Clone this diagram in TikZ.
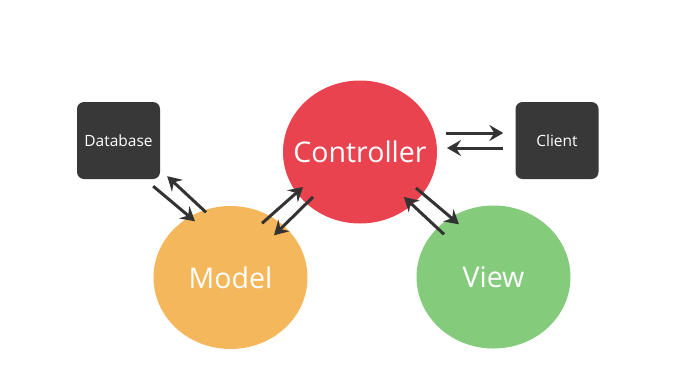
\documentclass[tikz,border=0pt]{standalone}
\usepackage{fontspec}
\setmainfont{Open Sans}
\usetikzlibrary{shapes.geometric,arrows.meta}

\definecolor{boxgray}{HTML}{383838}
\definecolor{arrowgray}{HTML}{333333}
\definecolor{ctrlred}{HTML}{E8434F}
\definecolor{modelorange}{HTML}{F5B75B}
\definecolor{viewgreen}{HTML}{84CC7C}

\tikzset{
  partbox/.style={fill=boxgray, rounded corners=7pt, minimum width=83pt,
    minimum height=77pt, inner sep=0pt, text=white,
    font=\fontsize{15.5}{18}\selectfont},
  partblob/.style={ellipse, minimum width=154pt, minimum height=143pt,
    inner ysep=0pt, inner xsep=-16pt, text=white,
    font=\fontsize{28.5}{31}\selectfont},
  arr/.style={-{Stealth[length=14pt,width=16pt,inset=5pt]},
    line width=3pt, draw=arrowgray},
}

\begin{document}
\begin{tikzpicture}[x=1pt,y=-1pt]
\useasboundingbox (0,0) rectangle (679,391);
% the boxes and the three parts
\node[partbox] (db) at (118.5,140.5) {Database};
\node[partbox] (client) at (557,140.5) {Client};
\node[partblob, fill=ctrlred] (ctrl) at (360,152) {Controller};
\node[partblob, fill=modelorange] (model) at (230.5,277.5) {Model};
\node[partblob, fill=viewgreen] (view) at (493.5,277) {View};
% arrows
\draw[arr] ([shift={(-7,7)}]db.south east) -- ([shift={(-35.5,15.5)}]model.north);
\draw[arr] ([shift={(-24.5,6.5)}]model.north) -- ([shift={(7,-3)}]db.south east);
\draw[arr] ([shift={(31.5,17.5)}]model.north) -- ([shift={(-57,35)}]ctrl.center);
\draw[arr] ([shift={(-47,45)}]ctrl.center) -- ([shift={(43.5,29.5)}]model.north);
\draw[arr] ([shift={(86,-19)}]ctrl.center) -- ([shift={(-12,-7.5)}]client.west);
\draw[arr] ([shift={(-12,7.5)}]client.west) -- ([shift={(87,-4)}]ctrl.center);
\draw[arr] ([shift={(56,36)}]ctrl.center) -- ([shift={(-34.5,19)}]view.north);
\draw[arr] ([shift={(-49.5,29)}]view.north) -- ([shift={(44,45)}]ctrl.center);
\end{tikzpicture}
\end{document}
